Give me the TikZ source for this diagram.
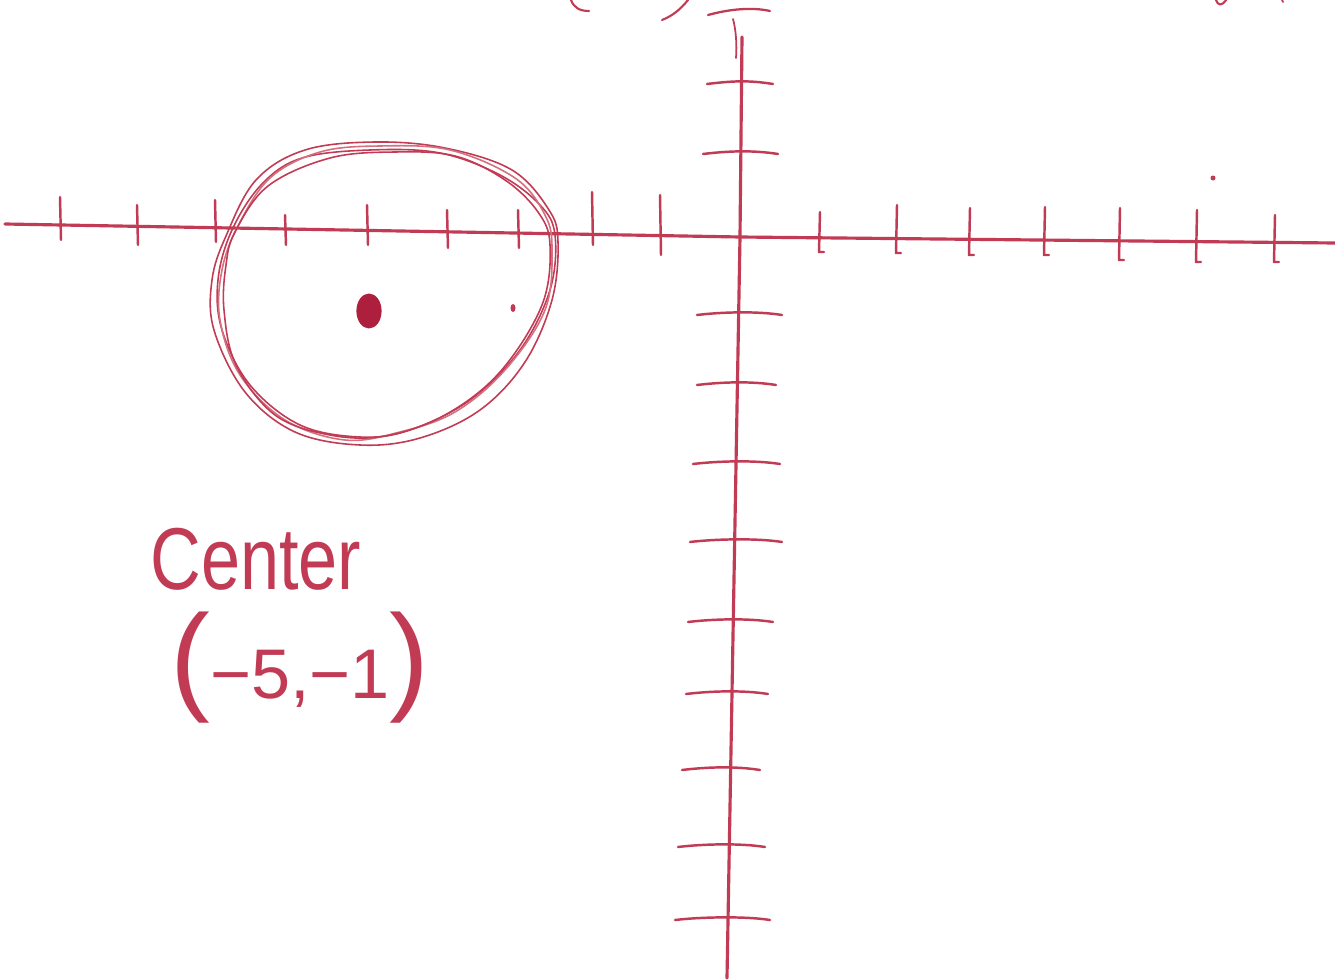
\documentclass[tikz,border=0pt]{standalone}
\usepackage{fontspec}
\setmainfont{Liberation Sans}
\usepackage{tikz}
\usetikzlibrary{positioning}
\definecolor{ink}{HTML}{C23B55}
\definecolor{inkdark}{HTML}{AE1F3D}
\definecolor{inklight}{HTML}{D4707F}
\tikzset{
    pen/.style={
        draw=ink, line width=#1, line cap=round, line join=round
    },
    pen/.default=1.4pt,
    axisline/.style={
        pen=1.8pt
    },
    loopstroke/.style={
        draw=#1, line width=0.9pt, line cap=round
    },
    loopstroke/.default=ink,
    handtext/.style={
        text=ink, inner sep=0pt, anchor=north west
    },
}

\begin{document}
\begin{tikzpicture}[x=0.02cm, y=-0.02cm]

    \useasboundingbox[fill=white] (0,0) rectangle (1335,980);

    % Fragments cut off at the top edge
    \draw[pen=1.2pt] (571,0) .. controls (574,8) and (580,11) .. (589,11);
    \draw[pen=1.2pt] (688,0) .. controls (680,10) and (672,16) .. (662,20);
    \draw[pen=1.3pt] (708,15) .. controls (730,9) and (752,7) .. (770,11);
    \draw[pen=1.0pt] (733,19) .. controls (736,30) and (737,45) .. (736,58);
    \draw[pen=1.2pt] (1216,0) .. controls (1218,6) and (1222,6) .. (1226,0);
    \draw[pen=1.0pt] (1282,0) -- (1283,2);

    % Axes
    \coordinate (origin) at (740,237);
    \draw[axisline] (5,224) -- (origin) -- (1335,243);
    \draw[axisline] (742,37) -- (origin) -- (727,978);

    % Ticks on the x axis (left side)
    \foreach \tx/\ta/\tb in {60/197/240, 137/205/245, 215/200/242, 285/215/245,
        367/205/245, 447/210/248, 518/210/248, 592/192/245, 660/195/255}
        \draw[pen] (\tx,\ta) -- (\tx+1,\tb);

    % Ticks on the x axis (right side, with little hooks)
    \foreach \tx/\ta/\tb in {820/212/252, 897/205/253, 970/208/255, 1045/207/255,
        1120/208/260, 1197/210/262, 1275/215/262}
        \draw[pen] (\tx,\ta) -- (\tx-1,\tb) -- ++(5,0);

    % Ticks on the y axis
    \foreach \ty/\tl/\tr in {82/707/773, 152/703/778, 313/697/782, 383/697/776,
        462/693/780, 540/690/782, 620/688/773, 692/686/768, 768/682/760,
        845/678/765, 918/675/770}
        \draw[pen] (\tl,\ty+2) .. controls (\tl+25,\ty-1) and (\tr-25,\ty-2) .. (\tr,\ty+2);

    % Circle, traced over a few times
    \draw[loopstroke] plot[smooth cycle, tension=0.6] coordinates {
        (232,230) (262,184) (302,158) (370,150) (440,153) (500,175) (540,205)
        (555,235) (550,290) (520,350) (470,400) (410,430) (360,437) (300,425)
        (250,385) (222,330) (218,280)};
    \draw[loopstroke] plot[smooth cycle, tension=0.6] coordinates {
        (226,236) (256,180) (305,150) (375,142) (445,148) (512,170) (549,210)
        (558,242) (552,300) (525,362) (480,410) (420,438) (360,445) (295,432)
        (245,392) (214,330) (212,280)};
    \draw[loopstroke=inklight] plot[smooth cycle, tension=0.6] coordinates {
        (238,226) (270,178) (320,152) (380,146) (450,150) (515,178) (545,215)
        (552,250) (545,310) (505,370) (455,412) (400,432) (345,440) (285,420)
        (240,375) (220,320) (222,270)};
    \draw[loopstroke] plot[smooth cycle, tension=0.6] coordinates {
        (235,232) (268,186) (330,158) (395,152) (455,156) (505,180) (538,212)
        (550,245) (542,305) (500,372) (445,415) (385,436) (330,435) (275,415)
        (236,365) (224,310) (226,265)};

    % Centre point and stray marks
    \node[circle, fill=inkdark, inner sep=0pt, minimum size=0.7cm, xscale=0.72] (centre) at (369,311) {};
    \fill[ink] (513,308) ellipse (2.5 and 4);
    \fill[ink] (1213,178) circle (2.5);

    % Handwritten labels
    \node[handtext, font=\fontsize{50}{56}\selectfont, xscale=0.8] (lbl) at (150,528) {Center};
    \node[handtext, font=\fontsize{40}{46}\selectfont] (pt) at (170,612)
        {{\fontsize{68}{72}\selectfont(}−5,−1{\fontsize{68}{72}\selectfont)}};

\end{tikzpicture}
\end{document}
